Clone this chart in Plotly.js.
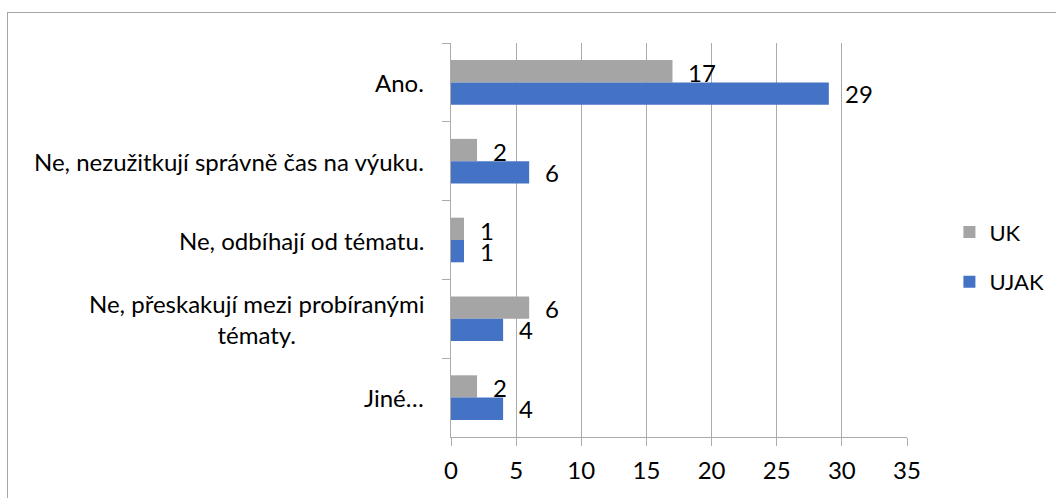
<!DOCTYPE html>
<html>
<head>
<meta charset="utf-8">
<script src="https://cdn.plot.ly/plotly-3.0.1.min.js"></script>
<style>
  html, body { margin: 0; padding: 0; background: #fff; }
  #wrap { position: relative; width: 1056px; height: 498px; overflow: hidden; }
  #chart { width: 1056px; height: 498px; }
  #frame { position: absolute; left: 7px; top: 12px; width: 1200px; height: 600px;
           border-left: 1.5px solid #A6A6A6; border-top: 1.5px solid #A6A6A6; pointer-events: none; }
</style>
</head>
<body>
<div id="wrap">
  <div id="chart"></div>
  <div id="frame"></div>
</div>
<script>
const categories = [
  "Ano.",
  "Ne, nezužitkují správně čas na výuku.",
  "Ne, odbíhají od tématu.",
  "Ne, přeskakují mezi probíranými<br>tématy.",
  "Jiné…"
];
const ukValues = [17, 2, 1, 6, 2];
const ujakValues = [29, 6, 1, 4, 4];
const seriesNames = ["UK", "UJAK"];
const xTicks = [0, 5, 10, 15, 20, 25, 30, 35];

const FONT = "Lato, 'Open Sans', sans-serif";
const FS = 24;
const GRAY = "#A5A5A5";
const BLUE = "#4472C4";

const traces = [
  {
    type: "bar", orientation: "h", name: seriesNames[0],
    y: categories, x: ukValues,
    marker: { color: GRAY },
    legendgroup: "a", hoverinfo: "x"
  },
  {
    type: "bar", orientation: "h", name: seriesNames[1],
    y: categories, x: ujakValues,
    marker: { color: BLUE },
    legendgroup: "b", hoverinfo: "x"
  }
];

const annotations = [];
// category labels (centered multi-line, right-anchored)
categories.forEach(c => {
  annotations.push({
    xref: "paper", yref: "y", x: 0, y: c,
    xanchor: "right", yanchor: "middle", xshift: -26,
    text: c, showarrow: false, align: "center", borderpad: 0,
    font: { family: FONT, size: FS, color: "#000" }
  });
});
// data labels
categories.forEach((c, i) => {
  annotations.push({
    xref: "x", yref: "y", x: ukValues[i], y: c,
    xanchor: "left", yanchor: "middle", xshift: 15, yshift: 10,
    text: String(ukValues[i]), showarrow: false, borderpad: 0,
    font: { family: FONT, size: FS, color: "#000" }
  });
  annotations.push({
    xref: "x", yref: "y", x: ujakValues[i], y: c,
    xanchor: "left", yanchor: "middle", xshift: 15, yshift: -11,
    text: String(ujakValues[i]), showarrow: false, borderpad: 0,
    font: { family: FONT, size: FS, color: "#000" }
  });
});

const layout = {
  width: 1056, height: 498,
  margin: { l: 451, r: 149, t: 43, b: 61, pad: 0, autoexpand: false },
  paper_bgcolor: "#fff", plot_bgcolor: "#fff",
  barmode: "group", bargap: 0.434, bargroupgap: 0,
  font: { family: FONT, size: FS, color: "#000" },
  showlegend: true,
  legend: {
    x: 1.093, xanchor: "left", y: 0.573, yanchor: "top",
    traceorder: "grouped", tracegroupgap: 18,
    font: { family: FONT, size: 22, color: "#000" },
    bgcolor: "rgba(0,0,0,0)"
  },
  xaxis: {
    range: [0, 35], tickvals: xTicks, ticktext: xTicks.map(String),
    showgrid: true, gridcolor: "#ABABAB", gridwidth: 1,
    zeroline: false,
    showline: true, linecolor: "#ABABAB", linewidth: 1,
    ticks: "outside", ticklen: 8, tickcolor: "#ABABAB",
    ticklabelstandoff: 4,
    tickfont: { family: FONT, size: FS, color: "#000" },
    fixedrange: true
  },
  yaxis: {
    type: "category", autorange: "reversed",
    showticklabels: false,
    showgrid: false, zeroline: false,
    showline: true, linecolor: "#ABABAB", linewidth: 1,
    ticks: "outside", ticklen: 8, tickcolor: "#ABABAB", tickson: "boundaries",
    fixedrange: true
  },
  annotations: annotations
};

Plotly.newPlot("chart", traces, layout, { displayModeBar: false, staticPlot: true });
</script>
</body>
</html>
